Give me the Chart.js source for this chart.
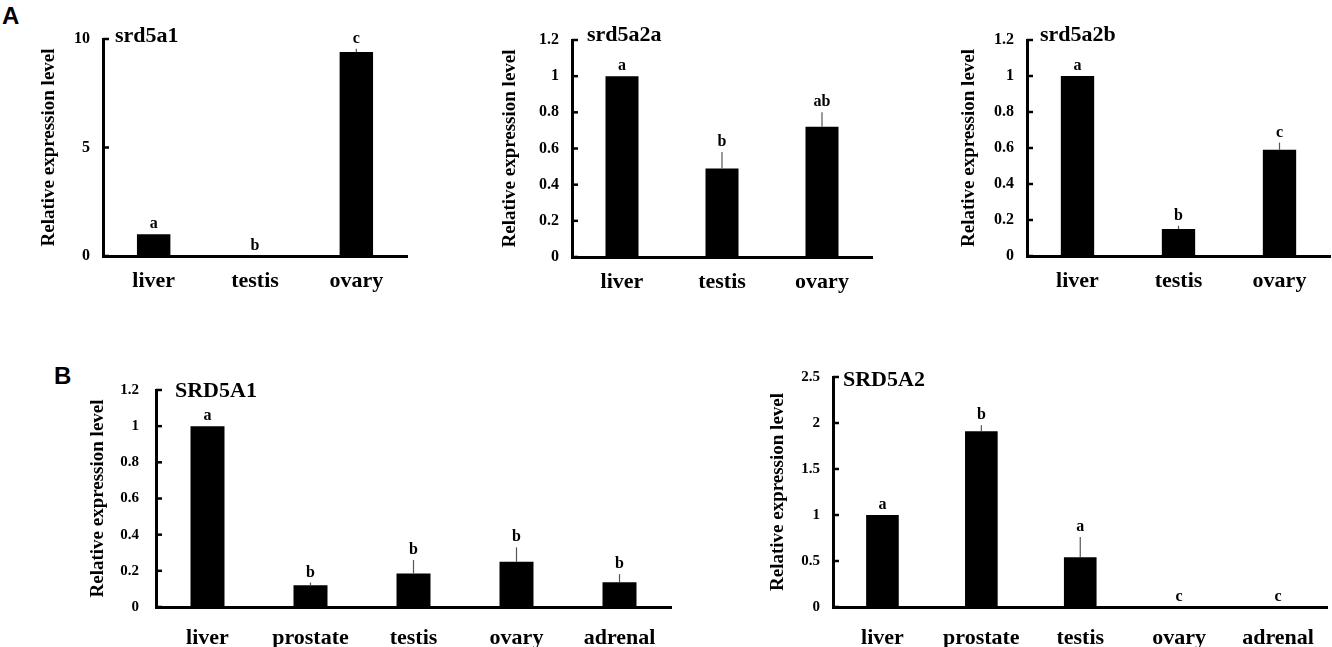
<!DOCTYPE html>
<html>
<head>
<meta charset="utf-8">
<script src="https://cdn.jsdelivr.net/npm/chart.js@4.4.1/dist/chart.umd.min.js"></script>
<style>
  body { margin: 0; background: #fff; width: 1332px; height: 647px; overflow: hidden; position: relative; }
  .panel { position: absolute; }
  .tag { position: absolute; font: bold 24px "Liberation Sans", Arial, sans-serif; line-height: 24px; color: #000; }
</style>
</head>
<body>
<div class="tag" style="left:2px;top:4px">A</div>
<div class="tag" style="left:54px;top:364px">B</div>
<script>
var SERIF = '"Liberation Serif", "Times New Roman", serif';

// tissues
var fishTissues = ['liver', 'testis', 'ovary'];
var humanTissues = ['liver', 'prostate', 'testis', 'ovary', 'adrenal'];

// A: srd5a1
var srd5a1 = [1.0, 0.0, 9.4];
var srd5a1Err = [0, 0, 0.15];
var srd5a1Sig = ['a', 'b', 'c'];

// A: srd5a2a
var srd5a2a = [1.0, 0.49, 0.72];
var srd5a2aErr = [0, 0.09, 0.08];
var srd5a2aSig = ['a', 'b', 'ab'];

// A: srd5a2b
var srd5a2b = [1.0, 0.15, 0.59];
var srd5a2bErr = [0, 0.018, 0.04];
var srd5a2bSig = ['a', 'b', 'c'];

// B: SRD5A1
var SRD5A1 = [1.0, 0.12, 0.185, 0.25, 0.137];
var SRD5A1Err = [0, 0.015, 0.075, 0.08, 0.045];
var SRD5A1Sig = ['a', 'b', 'b', 'b', 'b'];

// B: SRD5A2
var SRD5A2 = [1.0, 1.91, 0.54, 0, 0];
var SRD5A2Err = [0, 0.065, 0.22, 0, 0];
var SRD5A2Sig = ['a', 'b', 'a', 'c', 'c'];

var panels = [
  { name: 'srd5a1', labels: fishTissues, values: srd5a1, errors: srd5a1Err, letters: srd5a1Sig, max: 10, step: 5,
    axisX: 103, top: 39, bottom: 256, right: 407, titleX: 49, nameDx: 12, nameDy: -3, tickSize: 16, tickPad: 13, catPad: 12 },
  { name: 'srd5a2a', labels: fishTissues, values: srd5a2a, errors: srd5a2aErr, letters: srd5a2aSig, max: 1.2, step: 0.2,
    axisX: 572, top: 40, bottom: 257, right: 872, titleX: 510, nameDx: 15, nameDy: -5, tickSize: 16, tickPad: 13, catPad: 12 },
  { name: 'srd5a2b', labels: fishTissues, values: srd5a2b, errors: srd5a2bErr, letters: srd5a2bSig, max: 1.2, step: 0.2,
    axisX: 1027, top: 40, bottom: 256, right: 1330, titleX: 969, nameDx: 13, nameDy: -5, tickSize: 16, tickPad: 13, catPad: 12 },
  { name: 'SRD5A1', labels: humanTissues, values: SRD5A1, errors: SRD5A1Err, letters: SRD5A1Sig, max: 1.2, step: 0.2,
    axisX: 156, top: 390, bottom: 607, right: 671, titleX: 98, nameDx: 19, nameDy: 1, tickSize: 15, tickPad: 17, catPad: 18 },
  { name: 'SRD5A2', labels: humanTissues, values: SRD5A2, errors: SRD5A2Err, letters: SRD5A2Sig, max: 2.5, step: 0.5,
    axisX: 833, top: 377, bottom: 607, right: 1331, titleX: 778, nameDx: 10, nameDy: 3, tickSize: 15, tickPad: 13, catPad: 18 }
];

var TITLE_SIZE = 19;

function makePanel(p) {
  var titleOff = TITLE_SIZE * 1.2 / 2 + 4;
  var L = Math.floor(p.titleX - titleOff - 4);
  var T = p.top - 34;
  var R = Math.min(1332, p.right + 4);
  var B = Math.min(647, p.bottom + 42);

  var div = document.createElement('div');
  div.className = 'panel';
  div.style.left = L + 'px';
  div.style.top = T + 'px';
  div.style.width = (R - L) + 'px';
  div.style.height = (B - T) + 'px';
  var cv = document.createElement('canvas');
  div.appendChild(cv);
  document.body.appendChild(div);

  var marks = {
    id: 'marks',
    afterDatasetsDraw: function (chart) {
      var ctx = chart.ctx, xs = chart.scales.x, ys = chart.scales.y, area = chart.chartArea;
      ctx.save();
      // inside tick marks on the value axis
      ctx.strokeStyle = '#000';
      ctx.lineWidth = 2.5;
      ys.ticks.forEach(function (t) {
        var y = ys.getPixelForValue(t.value);
        ctx.beginPath();
        ctx.moveTo(area.left, y);
        ctx.lineTo(area.left + 6, y);
        ctx.stroke();
      });
      // error bars + significance letters
      p.values.forEach(function (v, i) {
        var x = xs.getPixelForValue(i);
        var yTop = ys.getPixelForValue(v + p.errors[i]);
        if (p.errors[i] > 0) {
          ctx.strokeStyle = '#555';
          ctx.lineWidth = 1.2;
          ctx.beginPath();
          ctx.moveTo(x, ys.getPixelForValue(v));
          ctx.lineTo(x, yTop);
          ctx.stroke();
        }
        ctx.fillStyle = '#000';
        ctx.font = 'bold 16px ' + SERIF;
        ctx.textAlign = 'center';
        ctx.textBaseline = 'alphabetic';
        ctx.fillText(p.letters[i], x, yTop - 6);
      });
      // gene name
      ctx.font = 'bold 22px ' + SERIF;
      ctx.textAlign = 'left';
      ctx.textBaseline = 'middle';
      ctx.fillStyle = '#000';
      ctx.fillText(p.name, area.left + p.nameDx, area.top + p.nameDy);
      ctx.restore();
    }
  };

  new Chart(cv, {
    type: 'bar',
    data: {
      labels: p.labels,
      datasets: [{
        data: p.values,
        backgroundColor: '#000',
        borderWidth: 0,
        barPercentage: 0.33,
        categoryPercentage: 1
      }]
    },
    options: {
      responsive: true,
      maintainAspectRatio: false,
      animation: false,
      layout: { padding: { left: p.titleX - titleOff - L, top: p.top - T, right: R - p.right, bottom: 0 } },
      plugins: { legend: { display: false }, tooltip: { enabled: false } },
      scales: {
        x: {
          grid: { display: false, drawTicks: false },
          border: { display: true, color: '#000', width: 3 },
          ticks: {
            color: '#000', padding: p.catPad, maxRotation: 0, autoSkip: false,
            font: { family: SERIF, size: 22, weight: 'bold' }
          },
          afterFit: function (s) { s.height = B - p.bottom; }
        },
        y: {
          min: 0,
          max: p.max,
          grid: { display: false, drawTicks: false },
          border: { display: true, color: '#000', width: 3 },
          ticks: {
            stepSize: p.step, color: '#000', padding: p.tickPad,
            font: { family: SERIF, size: p.tickSize, weight: 'bold' },
            callback: function (v) { return String(+Number(v).toFixed(2)); }
          },
          title: {
            display: true, text: 'Relative expression level', color: '#000',
            padding: { top: 4, bottom: 4 },
            font: { family: SERIF, size: TITLE_SIZE, weight: 'bold' }
          },
          afterFit: function (s) { s.width = p.axisX - (p.titleX - titleOff); }
        }
      }
    },
    plugins: [marks]
  });
}

panels.forEach(makePanel);
</script>
</body>
</html>
